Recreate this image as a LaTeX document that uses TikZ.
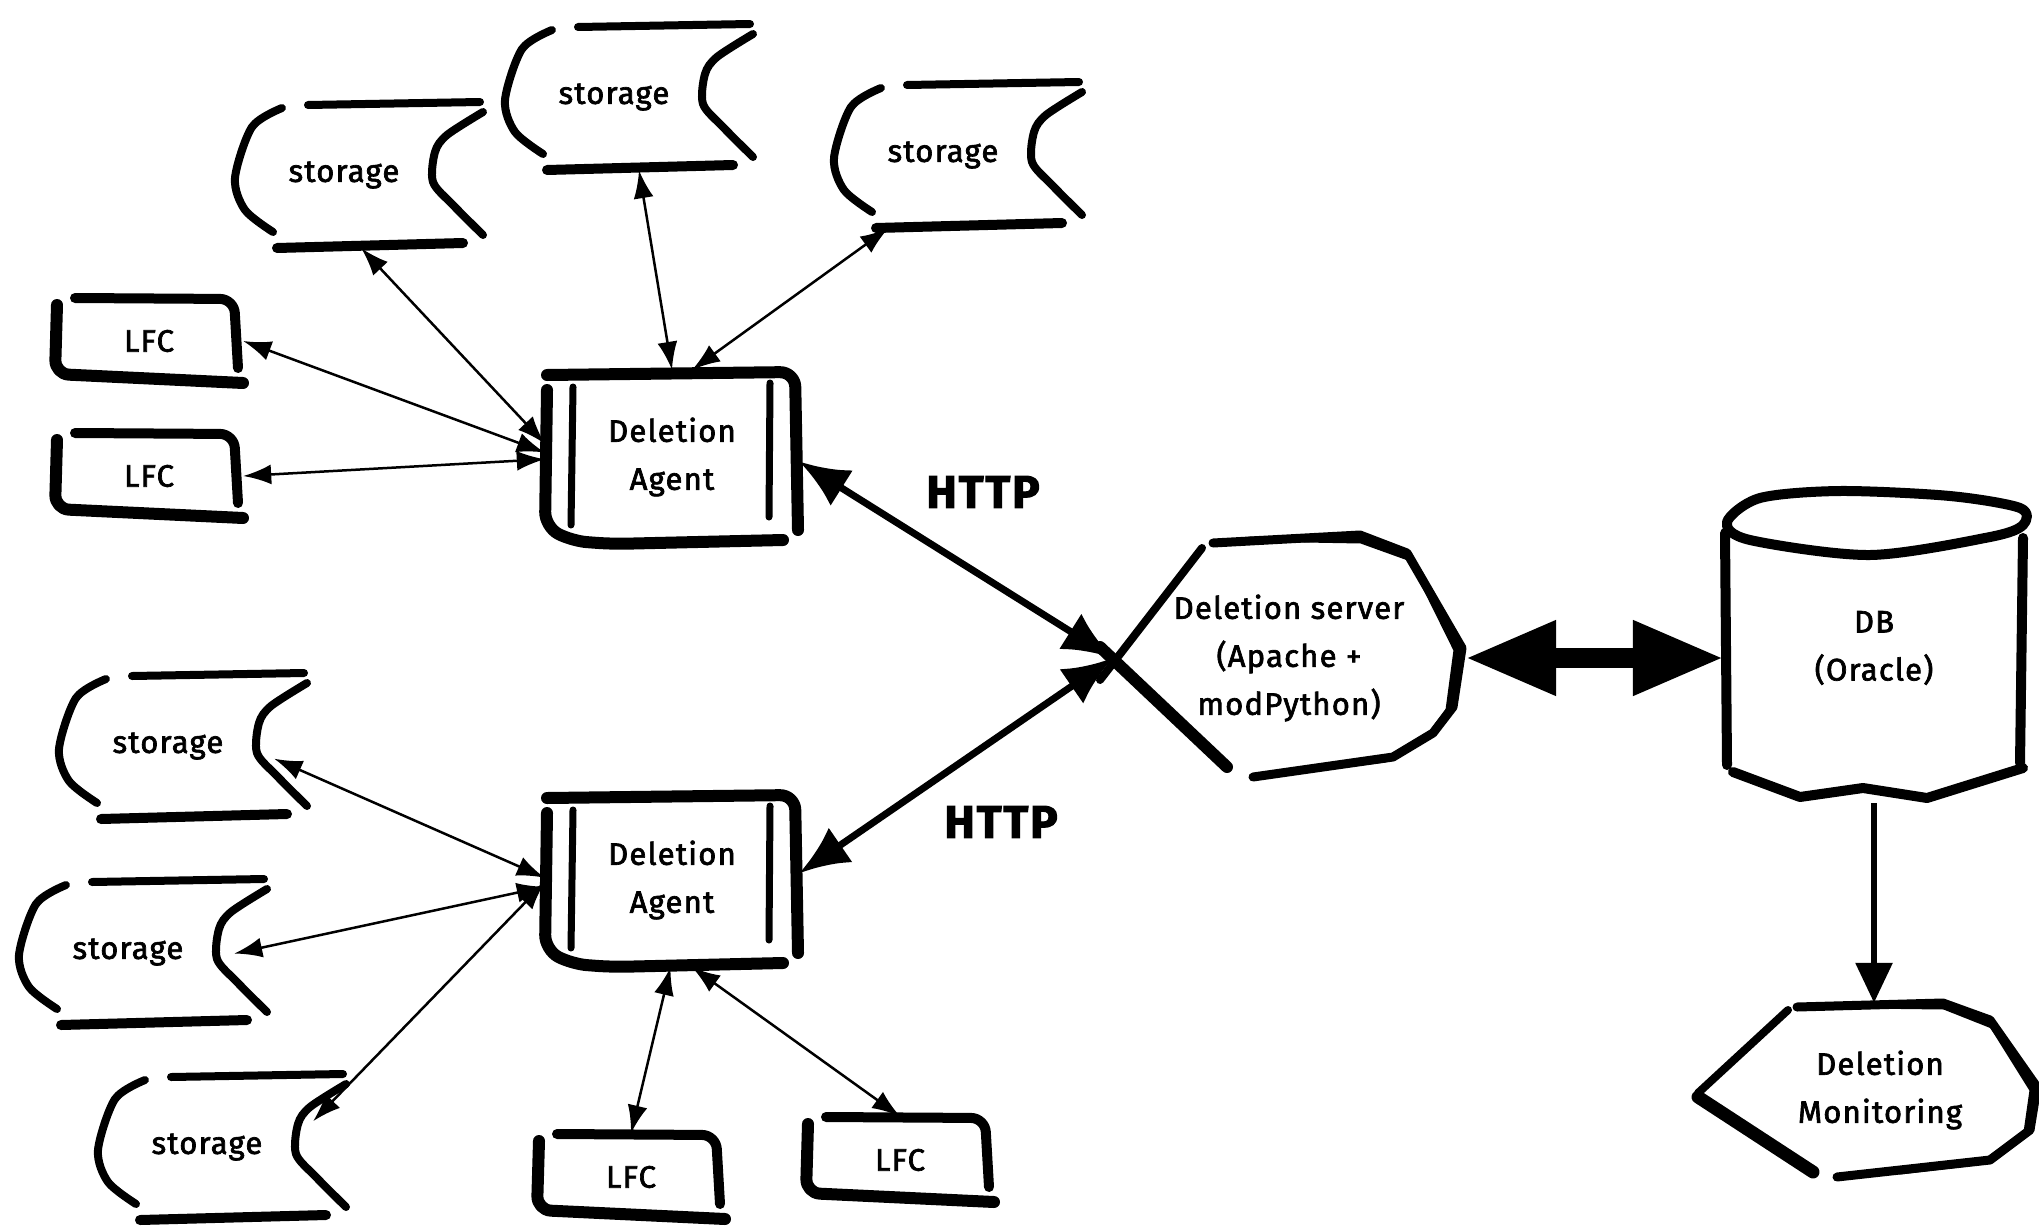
\documentclass[tikz,border=0pt]{standalone}
\usepackage{fontspec}
\setmainfont{Fira Sans}[LetterSpace=4, RawFeature={embolden=2.2}]
\usetikzlibrary{arrows.meta,calc}
\tikzset{
  txt/.style={font=\fontsize{31}{48}\selectfont, align=center, inner sep=0pt},
  store/.style={txt, minimum width=180pt, minimum height=146pt},
  lfcbox/.style={txt, minimum width=188pt, minimum height=87pt},
  agentbox/.style={txt, minimum width=254pt, minimum height=174pt},
  serverbox/.style={txt, minimum width=352pt, minimum height=240pt},
  dbbox/.style={txt, minimum width=300pt, minimum height=310pt},
  monbox/.style={txt, minimum width=320pt, minimum height=174pt},
  httplabel/.style={font=\fontsize{46}{50}\selectfont\bfseries, inner sep=0pt},
  hand/.style={line width=8pt, line cap=round, line join=round},
  conn/.style={line width=2.5pt, {Latex[length=28pt,width=20pt]}-{Latex[length=28pt,width=20pt]}},
  httparrow/.style={line width=7pt, {Latex[length=50pt,width=42pt]}-{Latex[length=50pt,width=42pt]}},
  bigarrow/.style={line width=20pt, {Triangle[length=91pt,width=70pt]}-{Triangle[length=91pt,width=70pt]}},
  downarrow/.style={line width=6pt, -{Triangle[length=40pt,width=36pt]}}
}
\newcommand\storagenode[3]{%
  \node[store] (#1) at (#2,#3) {\kern-32pt storage};
  \begin{scope}[shift={(#1.center)}]
    \draw[hand] (-52,-70) -- (120,-73);
    \draw[hand] plot[smooth] coordinates {(-78,-67) (-108,-48) (-125,3) (-115,35) (-87,57)};
    \draw[hand,line width=10pt] (-83,73) -- (103,68);
    \draw[hand] plot[smooth] coordinates {(123,-63) (87,-40) (75,-23) (73,7) (93,30) (123,60)};
  \end{scope}}
\newcommand\lfcnode[3]{%
  \node[lfcbox] (#1) at (#2,#3) {LFC};
  \begin{scope}[shift={(#1.center)}]
    \draw[hand,line width=10pt,rounded corners=14pt] (-74,-43) -- (85,-42) -- (89,27);
    \draw[hand,line width=12pt,rounded corners=14pt] (-92,-36) -- (-94,33) -- (94,42);
  \end{scope}}
\newcommand\agentnode[3]{%
  \node[agentbox] (#1) at (#2,#3) {Deletion\\Agent};
  \begin{scope}[shift={(#1.center)}]
    \draw[hand,line width=12pt,rounded corners=15pt] (-125,-82) -- (123,-85) -- (126,73);
    \draw[hand,line width=12pt,rounded corners=15pt] (-125,-67) -- (-127,70) -- (-100,84) -- (-60,87) -- (111,83);
    \draw[hand,line width=7pt] (-99,-70) -- (-101,68);
    \draw[hand,line width=7pt] (98,-74) -- (97,60);
  \end{scope}}
\begin{document}
\begin{tikzpicture}[x=1pt,y=-1pt]
\useasboundingbox (0,0) rectangle (2039,1226);
\fill[white] (0,0) rectangle (2039,1226);

% storages
\storagenode{sA}{360}{175}
\storagenode{sB}{630}{97}
\storagenode{sC}{959}{155}
\storagenode{sD}{184}{746}
\storagenode{sE}{144}{952}
\storagenode{sF}{223}{1147}

% LFCs
\lfcnode{lfc1}{149}{341}
\lfcnode{lfc2}{149}{476}
\lfcnode{lfc3}{631}{1177}
\lfcnode{lfc4}{900}{1160}

% agents
\agentnode{agent1}{672}{457}
\agentnode{agent2}{672}{880}

% server
\node[serverbox] (server) at (1289,658) {Deletion server\\(Apache +\\modPython)};
\begin{scope}[shift={(server.center)}]
  \draw[hand,line width=8pt] (-87,-110) -- (-189,22);
  \draw[hand,line width=12pt] (-189,-11) -- (-62,109);
  \draw[hand,line width=9pt] (-76,-115) -- (71,-123) -- (118,-105) -- (173,-10) -- (164,49) -- (144,75) -- (104,99) -- (-36,119);
  \draw[hand,line width=5pt] (-40,-119) -- (72,-117) -- (122,-99) -- (167,-8) -- (159,52) -- (139,79) -- (96,102) -- (10,113);
\end{scope}

% DB
\node[dbbox] (db) at (1874,648) {DB\\(Oracle)};
\begin{scope}[shift={(db.center)}]
  \draw[hand,line width=10pt] plot[smooth cycle, tension=0.5] coordinates {(-147,-126) (-114,-150) (-34,-157) (76,-152) (146,-140) (149,-123) (116,-111) (-4,-93) (-124,-108)};
  \draw[hand,line width=10pt] (-149,-115) -- (-147,117);
  \draw[hand,line width=10pt] (149,-110) -- (146,115);
  \draw[hand,line width=10pt] (-141,124) -- (-74,149) -- (-11,140) -- (53,150) -- (149,120);
\end{scope}

% Monitoring
\node[monbox] (mon) at (1880,1090) {Deletion\\Monitoring};
\begin{scope}[shift={(mon.center)}]
  \draw[hand,line width=8pt] (-92,-80) -- (-182,3);
  \draw[hand,line width=13pt] (-182,7) -- (-67,82);
  \draw[hand,line width=9pt] (-83,-83) -- (63,-87) -- (110,-70) -- (157,-3) -- (150,40) -- (110,70) -- (-43,87);
  \draw[hand,line width=5pt] (-20,-84) -- (64,-83) -- (112,-64) -- (152,0) -- (146,42) -- (104,72) -- (20,82);
\end{scope}

% HTTP labels
\node[httplabel] (h1) at (983,492) {HTTP};
\node[httplabel] (h2) at (1001,822) {HTTP};

% connectors
\draw[conn] (sA.-89) -- (agent1.174);
\draw[conn] (sB.-83) -- (agent1.90);
\draw[conn] (sC.-134) -- (agent1.77);
\draw[conn] (lfc1.east) -- (agent1.178);
\draw[conn] (lfc2.east) -- (agent1.181);
\draw[httparrow] (agent1.-2) -- (server.west);
\draw[httparrow] (agent2.3) -- (server.west);
\draw[conn] (sD.-8) -- (agent2.179);
\draw[conn] (sE.-1) -- (agent2.183);
\draw[conn] (sF.16) -- (agent2.181);
\draw[conn] (agent2.-91) -- (lfc3.north);
\draw[conn] (agent2.-77) -- (lfc4.north);
\draw[bigarrow] (server.east) -- (server.east -| db.west);
\draw[downarrow] (db.south) -- (db.south |- mon.north);
\end{tikzpicture}
\end{document}
